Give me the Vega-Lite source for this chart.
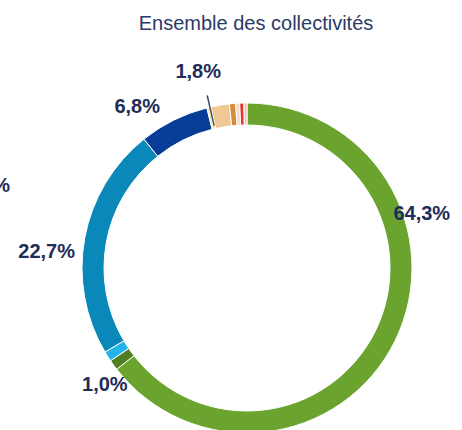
{
  "$schema": "https://vega.github.io/schema/vega-lite/v6.json",
  "autosize": "none",
  "width": 430,
  "height": 324,
  "padding": {"left": 32, "top": 106, "right": 0, "bottom": 0},
  "background": "#ffffff",
  "config": {"view": {"stroke": null}},
  "title": {
    "text": "Ensemble des collectivités",
    "font": "Liberation Sans",
    "fontSize": 20,
    "fontWeight": "normal",
    "color": "#2b3a67",
    "anchor": "middle",
    "baseline": "alphabetic",
    "offset": 12,
    "dx": 9
  },
  "data": {
    "values": [
      {"cat": "A", "order": 1, "value": 64.3, "label": "64,3%"},
      {"cat": "B", "order": 2, "value": 1.0, "label": ""},
      {"cat": "C", "order": 3, "value": 1.0, "label": "1,0%"},
      {"cat": "D", "order": 4, "value": 22.7, "label": "22,7%"},
      {"cat": "E", "order": 5, "value": 6.8, "label": "6,8%"},
      {"cat": "F", "order": 6, "value": 0.4, "label": ""},
      {"cat": "G", "order": 7, "value": 1.8, "label": "1,8%"},
      {"cat": "H", "order": 8, "value": 0.6, "label": ""},
      {"cat": "I", "order": 9, "value": 0.4, "label": ""},
      {"cat": "J", "order": 10, "value": 0.4, "label": ""},
      {"cat": "K", "order": 11, "value": 0.3, "label": ""}
    ]
  },
  "transform": [
    {"window": [{"op": "sum", "field": "value", "as": "cum"}], "sort": [{"field": "order"}], "frame": [null, 0]},
    {"calculate": "datum.cum - datum.value / 2", "as": "mid"}
  ],
  "layer": [
    {
      "mark": {"type": "arc", "outerRadius": 165, "innerRadius": 143, "stroke": "#ffffff", "strokeWidth": 1},
      "encoding": {
        "theta": {"field": "value", "type": "quantitative", "stack": true},
        "order": {"field": "order", "type": "quantitative"},
        "color": {
          "field": "cat", "type": "nominal", "legend": null,
          "scale": {
            "domain": ["A","B","C","D","E","F","G","H","I","J","K"],
            "range": ["#6aa42f","#4f7f22","#24b4ea","#0a88b9","#073d97","#f9e7a5","#efc895","#d68a3b","#f3dcc8","#e2342b","#f3c2bb"]
          }
        }
      }
    },
    {
      "transform": [{"filter": "datum.cat == 'G'"}],
      "mark": {"type": "arc", "outerRadius": 177, "innerRadius": 146, "color": "#3b4a6e", "thetaOffset": -0.124, "theta2Offset": -0.1152},
      "encoding": {
        "theta": {"field": "cum", "type": "quantitative", "stack": null},
        "theta2": {"field": "cum"}
      }
    },
    {
      "transform": [{"filter": "datum.cat == 'A'"}],
      "mark": {"type": "text", "radius": 183, "thetaOffset": -0.756, "font": "Liberation Sans", "fontSize": 20, "fontWeight": "bold", "color": "#1f2c57", "align": "center", "baseline": "middle"},
      "encoding": {"theta": {"field": "mid", "type": "quantitative", "stack": null}, "text": {"field": "label"}}
    },
    {
      "transform": [{"filter": "datum.cat == 'C'"}],
      "mark": {"type": "text", "radius": 184, "thetaOffset": -0.122, "font": "Liberation Sans", "fontSize": 20, "fontWeight": "bold", "color": "#1f2c57", "align": "center", "baseline": "middle"},
      "encoding": {"theta": {"field": "mid", "type": "quantitative", "stack": null}, "text": {"field": "label"}}
    },
    {
      "transform": [{"filter": "datum.cat == 'D'"}],
      "mark": {"type": "text", "radius": 201, "thetaOffset": -0.101, "font": "Liberation Sans", "fontSize": 20, "fontWeight": "bold", "color": "#1f2c57", "align": "center", "baseline": "middle"},
      "encoding": {"theta": {"field": "mid", "type": "quantitative", "stack": null}, "text": {"field": "label"}}
    },
    {
      "transform": [{"filter": "datum.cat == 'D'"}],
      "mark": {"type": "text", "radius": 259, "thetaOffset": 0.140, "font": "Liberation Sans", "fontSize": 20, "fontWeight": "bold", "color": "#1f2c57", "align": "center", "baseline": "middle"},
      "encoding": {"theta": {"field": "mid", "type": "quantitative", "stack": null}, "text": {"value": "%"}}
    },
    {
      "transform": [{"filter": "datum.cat == 'E'"}],
      "mark": {"type": "text", "radius": 195, "thetaOffset": -0.138, "font": "Liberation Sans", "fontSize": 20, "fontWeight": "bold", "color": "#1f2c57", "align": "center", "baseline": "middle"},
      "encoding": {"theta": {"field": "mid", "type": "quantitative", "stack": null}, "text": {"field": "label"}}
    },
    {
      "transform": [{"filter": "datum.cat == 'G'"}],
      "mark": {"type": "text", "radius": 202, "thetaOffset": -0.080, "font": "Liberation Sans", "fontSize": 20, "fontWeight": "bold", "color": "#1f2c57", "align": "center", "baseline": "middle"},
      "encoding": {"theta": {"field": "mid", "type": "quantitative", "stack": null}, "text": {"field": "label"}}
    }
  ]
}
